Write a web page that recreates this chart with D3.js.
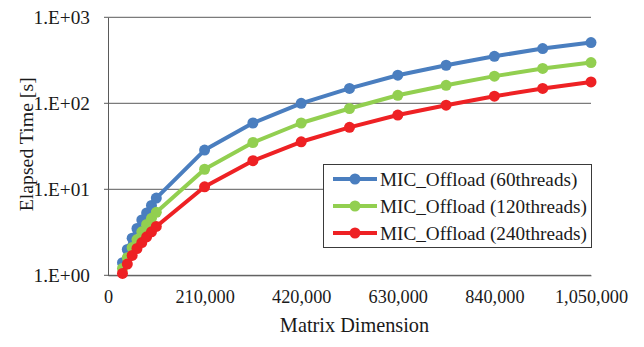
<!DOCTYPE html>
<html>
<head>
<meta charset="utf-8">
<script src="https://cdn.jsdelivr.net/npm/d3@7"></script>
<style>
  html, body { margin: 0; padding: 0; background: #fff; }
  svg { display: block; }
  text { font-family: "Liberation Serif", "Times New Roman", serif; fill: #1a1a1a; }
</style>
</head>
<body>
<svg id="chart" width="644" height="347"></svg>
<script>
// Matrix dimensions measured
const dims = [31500, 42000, 52500, 63000, 73500, 84000, 94500, 105000,
              210000, 315000, 420000, 525000, 630000, 735000, 840000, 945000, 1050000];

// Elapsed time [s] per thread count
const t60  = [1.4, 2.0, 2.7, 3.5, 4.4, 5.3, 6.5, 7.9,
              28.6, 59, 100, 149, 212, 277, 352, 433, 508];
const t120 = [1.2, 1.6, 2.1, 2.6, 3.2, 3.9, 4.6, 5.4,
              17.1, 35, 59, 87, 124, 162, 207, 254, 298];
const t240 = [1.05, 1.35, 1.7, 2.05, 2.4, 2.8, 3.2, 3.7,
              10.7, 21.5, 35.7, 52.5, 73, 95, 121, 149, 177];

const seriesNames = ["MIC_Offload (60threads)", "MIC_Offload (120threads)", "MIC_Offload (240threads)"];
const seriesColors = ["#4A7EBF", "#92CF50", "#EE2124"];
const seriesValues = [t60, t120, t240];

const xTicks = [0, 210000, 420000, 630000, 840000, 1050000];
const yTicks = [1, 10, 100, 1000];

const svg = d3.select("#chart");
const plotLeft = 108, plotRight = 591, plotTop = 17.3, plotBottom = 275.3;

const x = d3.scaleLinear().domain([0, 1050000]).range([plotLeft, plotRight]);
const y = d3.scaleLog().domain([1, 1000]).range([plotBottom, plotTop]);

// horizontal gridlines
svg.append("g")
  .selectAll("line")
  .data(yTicks)
  .join("line")
  .attr("x1", plotLeft - 4).attr("x2", plotRight)
  .attr("y1", d => y(d)).attr("y2", d => y(d))
  .attr("stroke", "#5a5a5a").attr("stroke-width", 1);

// y axis
const yAxis = svg.append("g")
  .attr("transform", `translate(${plotLeft},0)`)
  .call(d3.axisLeft(y).tickValues(yTicks).tickSize(0).tickPadding(18)
    .tickFormat(d => "1.E+" + String(Math.round(Math.log10(d))).padStart(2, "0")));
yAxis.select(".domain").attr("stroke", "#5a5a5a");
yAxis.selectAll("text").style("font-size", "19.3px").attr("fill", "#1a1a1a")
  .attr("font-family", "Liberation Serif");

// x axis
const xAxis = svg.append("g")
  .attr("transform", `translate(0,${plotBottom})`)
  .call(d3.axisBottom(x).tickValues(xTicks).tickSize(0).tickPadding(15)
    .tickFormat(d3.format(",")));
xAxis.select(".domain").attr("stroke", "#5a5a5a");
xAxis.selectAll("text").style("font-size", "18.3px").attr("fill", "#1a1a1a")
  .attr("font-family", "Liberation Serif");

// axis titles
svg.append("text")
  .attr("x", (plotLeft + plotRight) / 2 + 5).attr("y", 332)
  .attr("text-anchor", "middle").style("font-size", "20.3px")
  .text("Matrix Dimension");
svg.append("text")
  .attr("transform", `translate(33,${(plotTop + plotBottom) / 2 - 2}) rotate(-90)`)
  .attr("text-anchor", "middle").style("font-size", "19.8px")
  .text("Elapsed Time [s]");

// series lines and markers
const line = d3.line().x((d, i) => x(dims[i])).y(d => y(d));
seriesValues.forEach((vals, s) => {
  const g = svg.append("g");
  g.append("path").datum(vals)
    .attr("d", line).attr("fill", "none")
    .attr("stroke", seriesColors[s]).attr("stroke-width", 4)
    .attr("stroke-linejoin", "round");
  g.selectAll("circle").data(vals).join("circle")
    .attr("cx", (d, i) => x(dims[i])).attr("cy", d => y(d))
    .attr("r", 5.5).attr("fill", seriesColors[s]);
});

// legend
const lg = svg.append("g");
lg.append("rect")
  .attr("x", 323.5).attr("y", 164.5).attr("width", 268).attr("height", 83)
  .attr("fill", "#fff").attr("stroke", "#3a3a3a").attr("stroke-width", 1);
seriesNames.forEach((name, s) => {
  const cy = 179 + s * 27;
  lg.append("line").attr("x1", 333).attr("x2", 377).attr("y1", cy).attr("y2", cy)
    .attr("stroke", seriesColors[s]).attr("stroke-width", 4);
  lg.append("circle").attr("cx", 355).attr("cy", cy).attr("r", 5.5).attr("fill", seriesColors[s]);
  lg.append("text").attr("x", 380).attr("y", cy).attr("dy", "0.34em")
    .style("font-size", "19.2px").text(name);
});
</script>
</body>
</html>
